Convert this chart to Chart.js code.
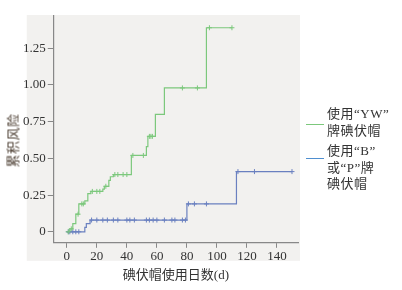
<!DOCTYPE html>
<html>
<head>
<meta charset="utf-8">
<script src="https://cdn.jsdelivr.net/npm/chart.js@4.4.1/dist/chart.umd.min.js"></script>
<style>
  body { margin: 0; background: #fff; }
  #wrap { position: relative; width: 402px; height: 290px; overflow: hidden; }
  #chart { position: absolute; left: 0; top: 0; }
  #ytitle {
    position: absolute; left: -18px; top: 131px; width: 60px; text-align: center;
    font: 13px "Noto Sans CJK SC", sans-serif; color: #4a3c30; letter-spacing: 0.5px;
    transform: rotate(-90deg); white-space: nowrap;
  }
  .leg { position: absolute; left: 306px; font: 13px/16.5px "Liberation Serif", "Noto Sans CJK SC", serif; color: #333; }
  .leg .sw { position: absolute; left: 0; width: 18px; height: 0; border-top: 1.5px solid; }
  .leg .tx { position: absolute; left: 21px; white-space: nowrap; letter-spacing: 0.5px; }
</style>
</head>
<body>
<div id="wrap">
  <canvas id="chart" width="402" height="290"></canvas>
  <div id="ytitle">累积风险</div>
  <div class="leg" style="top:106px">
    <div class="sw" style="top:18px;border-color:#7cc87c"></div>
    <div class="tx">使用“YW”<br>牌碘伏帽</div>
  </div>
  <div class="leg" style="top:143px">
    <div class="sw" style="top:15px;border-color:#4f8fd0"></div>
    <div class="tx">使用“B”<br>或“P”牌<br>碘伏帽</div>
  </div>
</div>
<script>
// ---- 数据----
const xTickValues = [0, 20, 40, 60, 80, 100, 120, 140];
const yTickValues = [0, 0.25, 0.5, 0.75, 1.0, 1.25];
const yTickLabels = ["0", "0.25", "0.50", "0.75", "1.00", "1.25"];

// 使用“YW”牌碘伏帽：事件时间与累积风险
const greenDays = [0, 2, 4, 6, 8, 12, 14, 16, 24, 25, 28, 29, 31, 43, 53, 54, 59, 65, 93, 110];
const greenRisk = [0, 0.02, 0.055, 0.12, 0.19, 0.21, 0.26, 0.275, 0.29, 0.31, 0.35, 0.375, 0.39, 0.52, 0.58, 0.65, 0.80, 0.98, 1.39, 1.39];
const greenCensor = [1, 3, 7.5, 10, 11, 17, 20, 22, 26, 32, 34, 37.5, 40, 44, 51, 55, 56, 57, 77, 87, 95, 110];

// 使用“B”或“P”牌碘伏帽
const blueDays = [0, 12, 13, 15.5, 80, 113, 150];
const blueRisk = [0, 0.03, 0.055, 0.08, 0.19, 0.41, 0.41];
const blueCensor = [1, 2, 4, 6, 8, 16.5, 20, 24, 27, 31, 34, 40, 42, 45, 53, 55, 57.5, 60, 65, 70, 72, 77, 79,
                    81, 85, 93, 114, 125, 150];

const GREEN = "#7cc87c";
const BLUE = "#6a80c0";

// 删失点落在当前台阶上
function riskAt(days, risk, t) {
  let v = risk[0];
  for (let i = 0; i < days.length; i++) if (days[i] <= t) v = risk[i];
  return v;
}

const bgPlugin = {
  id: "plotBg",
  beforeDraw(chart) {
    const a = chart.chartArea, ctx = chart.ctx;
    ctx.save();
    ctx.fillStyle = "#f2f1ef";
    ctx.fillRect(a.left - 27, a.top - 1, a.right - a.left + 29, a.bottom - a.top + 19);
    ctx.restore();
  }
};

const tickFont = { family: "'Liberation Serif', serif", size: 13 };

new Chart(document.getElementById("chart"), {
  type: "line",
  data: {
    datasets: [
      {
        data: greenDays.map((d, i) => ({ x: d, y: greenRisk[i] })),
        stepped: "before", borderColor: GREEN, borderWidth: 1.2, pointRadius: 0, fill: false
      },
      {
        data: blueDays.map((d, i) => ({ x: d, y: blueRisk[i] })),
        stepped: "before", borderColor: BLUE, borderWidth: 1.2, pointRadius: 0, fill: false
      },
      {
        type: "scatter",
        data: greenCensor.map(d => ({ x: d, y: riskAt(greenDays, greenRisk, d) })),
        pointStyle: "cross", pointRadius: 2.5, borderColor: GREEN, borderWidth: 1, showLine: false
      },
      {
        type: "scatter",
        data: blueCensor.map(d => ({ x: d, y: riskAt(blueDays, blueRisk, d) })),
        pointStyle: "cross", pointRadius: 2.5, borderColor: BLUE, borderWidth: 1, showLine: false
      }
    ]
  },
  options: {
    responsive: false,
    animation: false,
    devicePixelRatio: 1,
    layout: { padding: { left: 21, right: 104, top: 16, bottom: 7 } },
    plugins: { legend: { display: false }, tooltip: { enabled: false } },
    scales: {
      x: {
        type: "linear", min: -8.7, max: 154,
        afterBuildTicks: s => { s.ticks = xTickValues.map(v => ({ value: v })); },
        ticks: { font: tickFont, color: "#333", padding: 1, maxRotation: 0 },
        grid: { display: true, drawOnChartArea: false, drawTicks: true, tickLength: 5, color: "#888" },
        border: { display: true, color: "#888", width: 1.2 },
        title: {
          display: true, text: "碘伏帽使用日数(d)", color: "#333",
          font: { family: "'Liberation Serif', 'Noto Sans CJK SC', serif", size: 13 },
          padding: { top: 2, bottom: 0 }
        }
      },
      y: {
        type: "linear", min: -0.075, max: 1.47,
        afterBuildTicks: s => { s.ticks = yTickValues.map(v => ({ value: v })); },
        ticks: { font: tickFont, color: "#333", padding: 2, callback: (v, i) => yTickLabels[i] },
        grid: { display: true, drawOnChartArea: false, drawTicks: true, tickLength: 6, color: "#888" },
        border: { display: true, color: "#888", width: 1.2 }
      }
    }
  },
  plugins: [bgPlugin]
});
</script>
</body>
</html>
